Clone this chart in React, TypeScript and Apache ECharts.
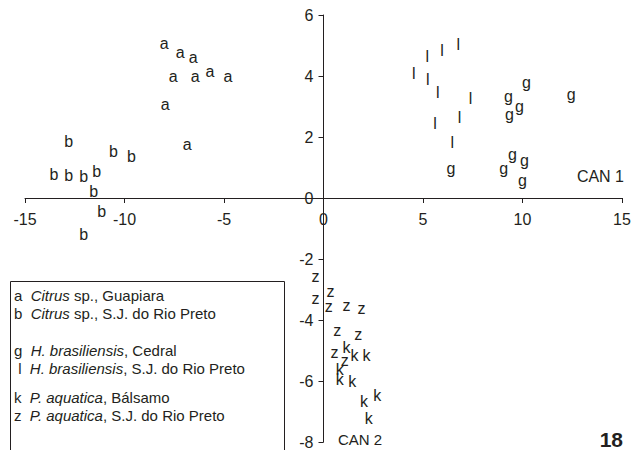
import React, { useEffect, useRef } from "react";
import * as echarts from "echarts";

const FONT = "Arial, 'Liberation Sans', Helvetica, sans-serif";
const INK = "#231f20";

// [CAN 1, CAN 2] scores per group
const groupA: number[][] = [
  [-8.0, 5.05], [-7.2, 4.77], [-6.55, 4.6], [-7.55, 3.98], [-6.45, 3.98],
  [-5.7, 4.14], [-4.8, 4.0], [-7.95, 3.08], [-6.85, 1.74],
];
const groupB: number[][] = [
  [-12.8, 1.86], [-10.55, 1.52], [-9.65, 1.36], [-13.55, 0.78], [-12.8, 0.75],
  [-12.05, 0.7], [-11.4, 0.88], [-11.55, 0.22], [-11.15, -0.44], [-12.05, -1.2],
];
const groupG: number[][] = [
  [10.2, 3.78], [12.45, 3.4], [9.3, 3.34], [9.85, 2.99], [9.35, 2.74],
  [6.4, 0.98], [9.05, 0.98], [9.5, 1.44], [10.1, 1.22], [10.0, 0.57],
];
const groupL: number[][] = [
  [6.77, 5.02], [5.96, 4.83], [5.21, 4.64], [4.54, 4.08], [5.24, 3.89],
  [5.74, 3.46], [7.39, 3.27], [6.83, 2.63], [5.6, 2.44], [6.47, 1.81],
];
const groupK: number[][] = [
  [1.16, -4.9], [1.56, -5.15], [2.16, -5.18], [0.82, -5.62], [0.82, -5.94],
  [1.44, -6.0], [2.03, -6.66], [2.7, -6.46], [2.28, -7.24],
];
const groupZ: number[][] = [
  [-0.4, -2.56], [0.35, -3.05], [-0.4, -3.3], [0.27, -3.56], [1.16, -3.52],
  [1.91, -3.63], [0.69, -4.36], [1.74, -4.47], [0.55, -5.06], [1.07, -5.33],
];

const groupLetters = ["a", "b", "g", "l", "k", "z"];
const groupData = [groupA, groupB, groupG, groupL, groupK, groupZ];

const legendLines = [
  "a  {i|Citrus} sp., Guapiara",
  "b  {i|Citrus} sp., S.J. do Rio Preto",
  "",
  "g  {i|H. brasiliensis}, Cedral",
  " l  {i|H. brasiliensis}, S.J. do Rio Preto",
  "",
  "k  {i|P. aquatica}, Bálsamo",
  "z  {i|P. aquatica}, S.J. do Rio Preto",
];
const legendRowY = [297, 315, 0, 352, 370, 0, 399, 417];

const xTicks = { min: -15, max: 15, interval: 5 };
const yTicks = { min: -8, max: 6, interval: 2 };
const axisNames = { x: "CAN 1", y: "CAN 2" };
const figureNumber = "18";

const W = 641;
const H = 450;
const GRID = { left: 25, right: 19, top: 15, bottom: 8 };

export default function App() {
  const ref = useRef<HTMLDivElement>(null);
  useEffect(() => {
    if (!ref.current) return;
    const chart = echarts.init(ref.current, undefined, { renderer: "svg" });

    const gridW = W - GRID.left - GRID.right;
    const gridH = H - GRID.top - GRID.bottom;
    // move axes so that they cross at the origin
    const yAxisOffset =
      -gridW * ((0 - xTicks.min) / (xTicks.max - xTicks.min));
    const xAxisOffset =
      -gridH * ((0 - yTicks.min) / (yTicks.max - yTicks.min));

    const series = groupData.map((d, i) => ({
      type: "custom",
      name: groupLetters[i],
      data: d,
      silent: true,
      renderItem: (_params: any, api: any) => {
        const p = api.coord([api.value(0), api.value(1)]);
        return {
          type: "text",
          x: p[0],
          y: p[1],
          style: {
            text: groupLetters[i],
            fill: INK,
            fontFamily: FONT,
            fontSize: 16,
            align: "center",
            verticalAlign: "middle",
          },
        };
      },
    }));

    const legendTexts = legendLines
      .map((t, i) => ({ t, y: legendRowY[i] }))
      .filter((o) => o.t !== "")
      .map((o) => ({
        type: "text",
        left: 14,
        top: o.y - 9,
        z: 11,
        style: {
          text: o.t,
          fontFamily: FONT,
          fontSize: 15,
          fill: INK,
          rich: {
            i: { fontStyle: "italic", fontFamily: FONT, fontSize: 15, fill: INK },
          },
        },
      }));

    chart.setOption({
      animation: false,
      backgroundColor: "#ffffff",
      grid: { ...GRID, containLabel: false },
      xAxis: {
        type: "value",
        min: xTicks.min,
        max: xTicks.max,
        interval: xTicks.interval,
        offset: xAxisOffset,
        axisLine: { onZero: false, lineStyle: { color: INK, width: 1 } },
        axisTick: { show: true, length: 5, lineStyle: { color: INK } },
        axisLabel: { fontFamily: FONT, fontSize: 16, color: INK, margin: 13 },
        splitLine: { show: false },
      },
      yAxis: {
        type: "value",
        min: yTicks.min,
        max: yTicks.max,
        interval: yTicks.interval,
        offset: yAxisOffset,
        axisLine: { onZero: false, lineStyle: { color: INK, width: 1 } },
        axisTick: { show: true, length: 5, lineStyle: { color: INK } },
        axisLabel: { fontFamily: FONT, fontSize: 16, color: INK, margin: 10 },
        splitLine: { show: false },
      },
      graphic: [
        {
          type: "rect",
          shape: { x: 10.5, y: 281.5, width: 274, height: 200 },
          style: { fill: "#ffffff", stroke: INK, lineWidth: 1 },
          z: 10,
        },
        ...legendTexts,
        {
          type: "text",
          right: 17,
          top: 168,
          style: { text: axisNames.x, fontFamily: FONT, fontSize: 16, fill: INK },
        },
        {
          type: "text",
          left: 338,
          top: 432,
          style: { text: axisNames.y, fontFamily: FONT, fontSize: 15, fill: INK },
        },
        {
          type: "text",
          right: 18,
          top: 429,
          style: {
            text: figureNumber,
            fontFamily: FONT,
            fontSize: 21,
            lineHeight: 20,
            fontWeight: "bold",
            fill: INK,
          },
        },
      ],
      series,
    });
    return () => chart.dispose();
  }, []);
  return (
    <div
      ref={ref}
      style={{ position: "fixed", left: 0, top: 0, width: W, height: H }}
    />
  );
}
